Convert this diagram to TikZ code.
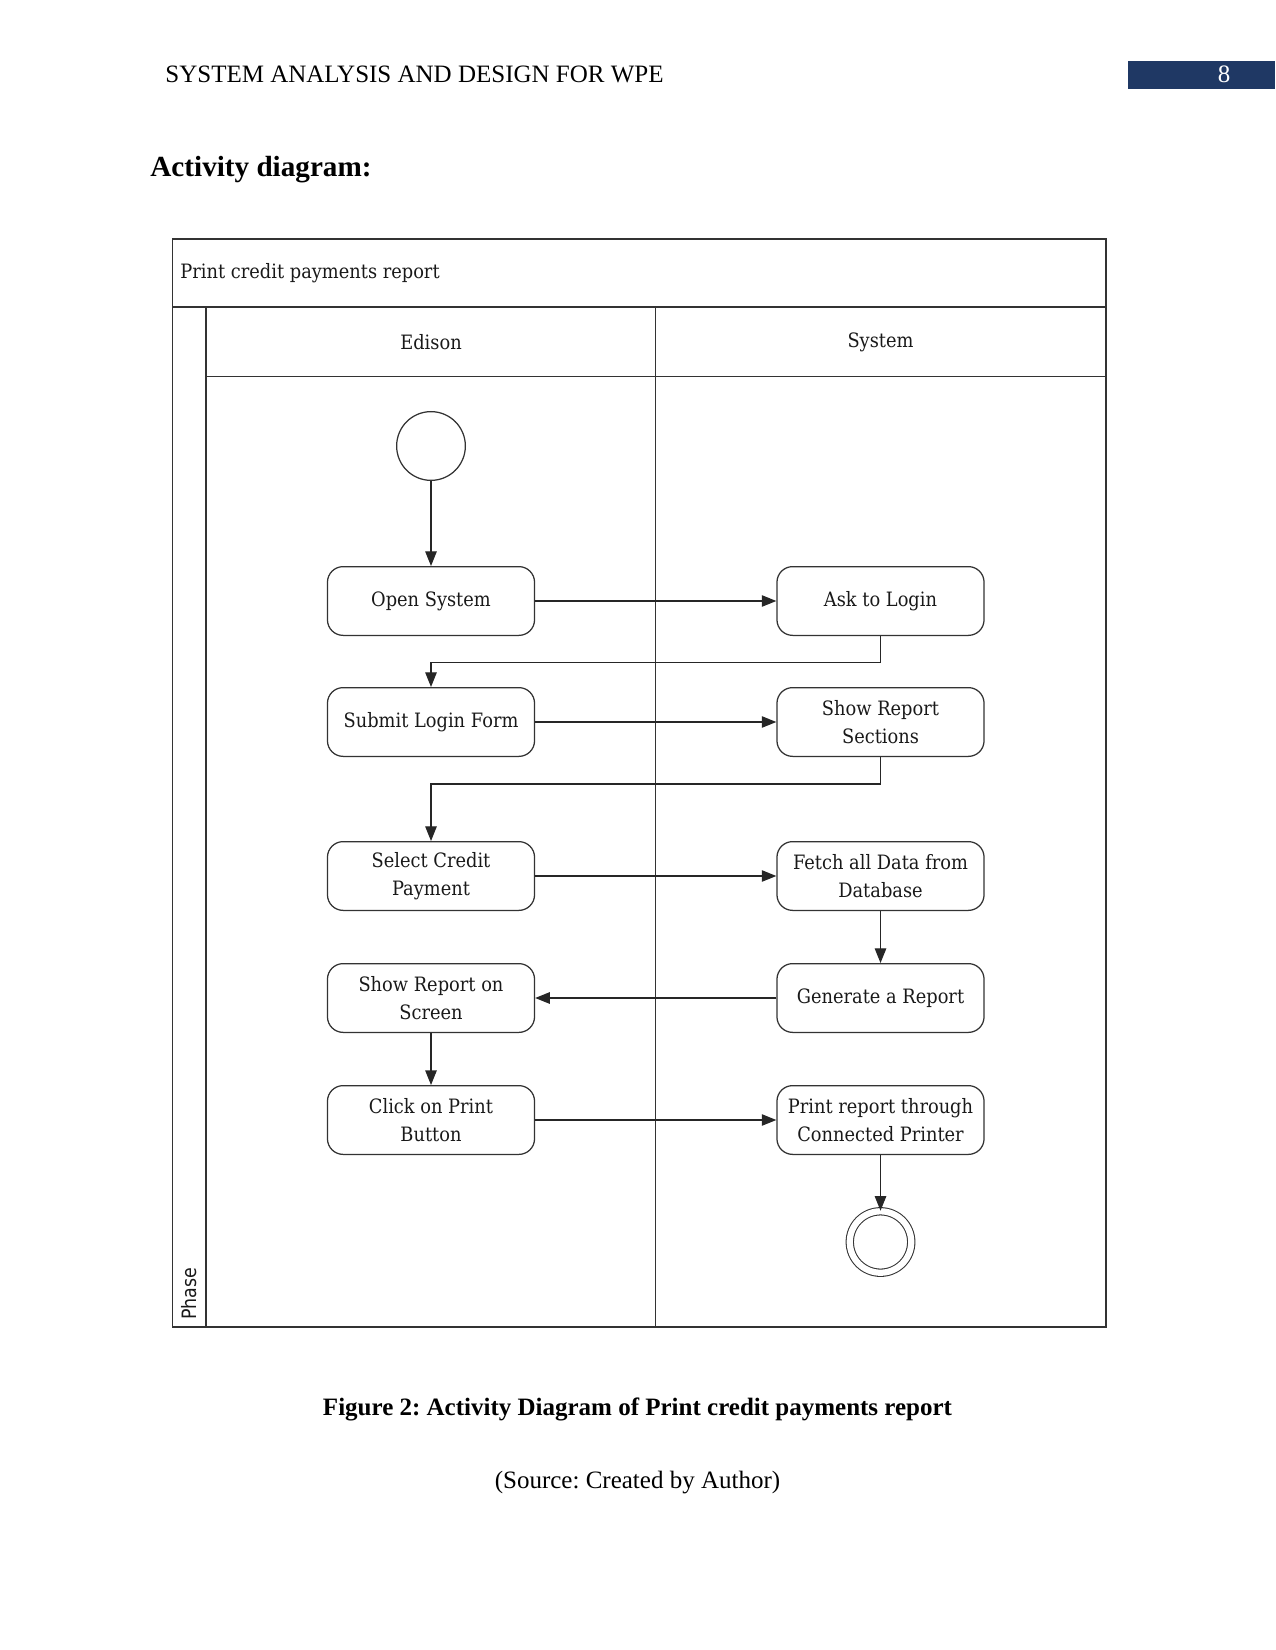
\documentclass[12pt,tikz,border=0pt]{standalone}
\usepackage{fontspec}
\setmainfont{Liberation Serif}
\newfontfamily\diafont[FakeStretch=0.9]{DejaVu Serif}
\newfontfamily\phasefont[FakeStretch=0.88]{DejaVu Sans}
\usetikzlibrary{arrows.meta}
\definecolor{headblue}{RGB}{31,56,100}
\frenchspacing
\begin{document}
\begin{tikzpicture}[x=0.48pt, y=-0.48pt, >={Triangle[length=7pt,width=5.5pt]},
    frame/.style={draw=black!80, line width=0.75pt},
    lane/.style={draw=black!80, line width=0.5pt},
    diatext/.style={font=\diafont\fontsize{9.5}{13.6}\selectfont, text=black!90},
    actbox/.style={diatext, draw=black!80, line width=0.6pt, rounded corners=7.5pt,
        minimum width=99.4pt, minimum height=33pt, inner sep=0pt, align=center},
    startnode/.style={draw=black!80, line width=0.6pt, circle, minimum size=33pt, inner sep=0pt},
    endnode/.style={draw=black!80, line width=0.5pt, double, double distance=3pt,
        circle, minimum size=29.5pt, inner sep=0pt},
    flow/.style={->, draw=black!85, line width=0.55pt}]
    \useasboundingbox (0,0) rectangle (1275,1650);

    \fill[headblue] (1128,61) rectangle (1275,89);
    \node[anchor=base west, inner sep=0pt] (runhead) at (165,83) {SYSTEM ANALYSIS AND DESIGN FOR WPE};
    \node[anchor=base, inner sep=0pt, text=white] (pagenum) at (1224,83) {8};
    \node[anchor=base west, inner sep=0pt, font=\bfseries\fontsize{14}{17}\selectfont] (heading) at (150,177) {Activity diagram:};

    \draw[frame] (172.5,239) rectangle (1106,1327);
    \draw[frame] (172.5,307) -- (1106,307);
    \draw[frame] (206,307) -- (206,1327);
    \draw[frame] (206,376.5) -- (1106,376.5);
    \draw[lane] (655.5,307) -- (655.5,1327);
    \node[diatext, anchor=west, inner sep=0pt] (ptitle) at (180,273) {Print credit payments report};
    \node[diatext] (edison) at (431,342) {Edison};
    \node[diatext] (system) at (880.5,342) {System};
    \node[font=\phasefont\fontsize{9.5}{12}\selectfont, text=black!90, rotate=90, anchor=west, inner sep=0pt] (phase) at (189,1320) {Phase};

    \node[startnode] (start) at (431,446) {};
    \node[actbox] (open) at (431,601) {Open System};
    \node[actbox] (ask) at (880.5,601) {Ask to Login};
    \node[actbox] (submit) at (431,722) {Submit Login Form};
    \node[actbox] (sections) at (880.5,722) {Show Report\\Sections};
    \node[actbox] (select) at (431,876) {Select Credit\\Payment};
    \node[actbox] (fetch) at (880.5,876) {Fetch all Data from\\Database};
    \node[actbox] (screen) at (431,998) {Show Report on\\Screen};
    \node[actbox] (generate) at (880.5,998) {Generate a Report};
    \node[actbox] (click) at (431,1120) {Click on Print\\Button};
    \node[actbox] (printer) at (880.5,1120) {Print report through\\Connected Printer};
    \node[endnode] (finish) at (880.5,1242) {};

    \draw[flow] (start) -- (open);
    \draw[flow] (open) -- (ask);
    \draw[flow] (ask.south) -- ++(0,26.5) -| (submit.north);
    \draw[flow] (submit) -- (sections);
    \draw[flow] (sections.south) -- ++(0,27) -| (select.north);
    \draw[flow] (select) -- (fetch);
    \draw[flow] (fetch) -- (generate);
    \draw[flow] (generate) -- (screen);
    \draw[flow] (screen) -- (click);
    \draw[flow] (click) -- (printer);
    \draw[flow] (printer) -- (finish);

    \node[anchor=base, inner sep=0pt, font=\bfseries] (caption) at (637.5,1415) {Figure 2: Activity Diagram of Print credit payments report};
    \node[anchor=base, inner sep=0pt] (source) at (637.5,1488) {(Source: Created by Author)};
\end{tikzpicture}
\end{document}
